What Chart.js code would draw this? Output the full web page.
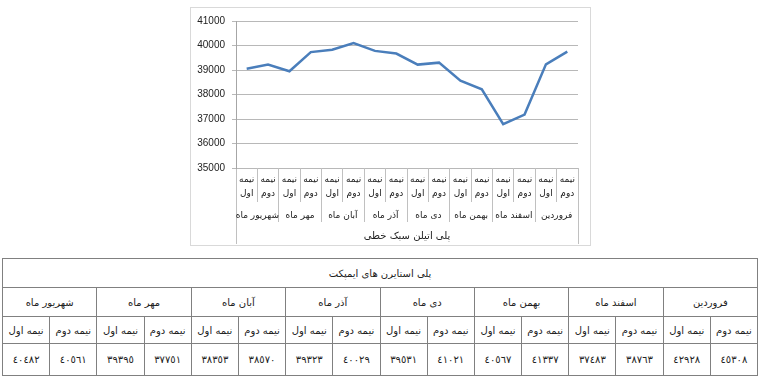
<!DOCTYPE html>
<html>
<head>
<meta charset="utf-8">
<script src="https://cdn.jsdelivr.net/npm/chart.js@4.4.1/dist/chart.umd.min.js"></script>
<style>
  body { margin: 0; background: #fff; width: 759px; height: 388px; position: relative; overflow: hidden; font-family: "DejaVu Sans", sans-serif; }
  #chartBox { position: absolute; left: 190px; top: 7px; width: 401px; height: 239px; border: 1px solid #d9d9d9; box-sizing: border-box; }
  #chartBox canvas { display: block; }
  #priceTable { position: absolute; left: 2px; top: 258px; width: 756px; border-collapse: collapse; table-layout: fixed; }
  #priceTable td { border: 1px solid #808080; text-align: center; font-size: 10px; color: #222; padding: 0; white-space: nowrap; }
</style>
</head>
<body>
<div id="chartBox"><canvas id="lineChart" width="399" height="237"></canvas></div>
<table id="priceTable"></table>
<script>
// Months, left to right as drawn
const months = ['شهریور ماه', 'مهر ماه', 'آبان ماه', 'آذر ماه', 'دی ماه', 'بهمن ماه', 'اسفند ماه', 'فروردین'];
const halves = ['نیمه اول', 'نیمه دوم'];
const axisTitle = 'پلی اتیلن سبک خطی';

// Line values (one per half month)
const lineValues = [39050, 39220, 38950, 39730, 39830, 40100, 39780, 39670,
                    39220, 39300, 38560, 38210, 36790, 37180, 39230, 39750];

// Table
const tableTitle = 'پلی استایرن های ایمپکت';
const tableValues = ['٤٠٤٨٢', '٤٠٥٦١', '٣٩٣٩٥', '٣٧٧٥١', '٣٨٣٥٣', '٣٨٥٧٠', '٣٩٣٢٣', '٤٠٠٢٩',
                     '٣٩٥٣١', '٤١٠٢١', '٤٠٥٦٧', '٤١٣٣٧', '٣٧٤٨٣', '٣٨٧٦٣', '٤٢٩٢٨', '٤٥٣٠٨'];

// Two-line category labels: ['نیمه', 'اول'] ...
const halfLabels = [];
months.forEach(() => {
  halves.forEach(h => halfLabels.push(h.split(' ')));
});

const gridGray = '#c0c0c0';
const labelFont = { family: 'DejaVu Sans', size: 9 };

new Chart(document.getElementById('lineChart'), {
  type: 'line',
  data: {
    labels: halfLabels,
    datasets: [{
      data: lineValues,
      borderColor: '#4a7ebb',
      borderWidth: 2.5,
      pointRadius: 0,
      tension: 0,
      xAxisID: 'x',
      yAxisID: 'y'
    }]
  },
  options: {
    responsive: false,
    animation: false,
    layout: { padding: { top: 12, right: 12, bottom: 1, left: 0 } },
    plugins: { legend: { display: false }, tooltip: { enabled: false } },
    scales: {
      y: {
        min: 35000,
        max: 41000,
        ticks: {
          stepSize: 1000,
          color: '#222',
          padding: 7,
          font: { family: 'Liberation Sans', size: 10 },
          callback: v => String(v)
        },
        grid: { color: '#b8b8b8', tickLength: 4 },
        border: { display: true, color: '#a6a6a6' },
        afterFit: s => { s.width = 45; }
      },
      x: {
        type: 'category',
        position: 'bottom',
        weight: 0,
        offset: true,
        grid: { offset: true, drawOnChartArea: false, tickLength: 34, color: gridGray },
        border: { display: false },
        ticks: { color: '#222', padding: -29, maxRotation: 0, autoSkip: false, font: { ...labelFont, lineHeight: 1.55 } },
        afterFit: s => { s.height = 34; }
      },
      x2: {
        type: 'category',
        position: 'bottom',
        weight: 1,
        labels: months,
        offset: true,
        grid: { offset: true, drawOnChartArea: false, tickLength: 20, color: gridGray },
        border: { display: false },
        ticks: { color: '#222', padding: -13, maxRotation: 0, autoSkip: false, font: { ...labelFont, lineHeight: 1.5 } },
        afterFit: s => { s.height = 20; }
      },
      x3: {
        type: 'category',
        position: 'bottom',
        weight: 2,
        labels: [axisTitle],
        offset: true,
        grid: { offset: true, drawOnChartArea: false, tickLength: 22, color: gridGray },
        border: { display: false },
        ticks: { color: '#222', padding: -15, maxRotation: 0, font: { family: 'DejaVu Sans', size: 10, lineHeight: 1.5 } },
        afterFit: s => { s.height = 22; }
      }
    }
  }
});

// Build the table
function buildTable() {
  const table = document.getElementById('priceTable');
  const rowHeights = [29, 29, 27, 32];

  const titleRow = table.insertRow();
  const titleCell = titleRow.insertCell();
  titleCell.colSpan = months.length * 2;
  titleCell.textContent = tableTitle;

  const monthRow = table.insertRow();
  months.forEach(m => {
    const c = monthRow.insertCell();
    c.colSpan = 2;
    c.textContent = m;
  });

  const halfRow = table.insertRow();
  months.forEach(() => {
    halves.forEach(h => {
      halfRow.insertCell().textContent = h;
    });
  });

  const valueRow = table.insertRow();
  tableValues.forEach(v => {
    valueRow.insertCell().textContent = v;
  });

  Array.from(table.rows).forEach((r, i) => { r.style.height = rowHeights[i] + 'px'; });
}

buildTable();
</script>
</body>
</html>
